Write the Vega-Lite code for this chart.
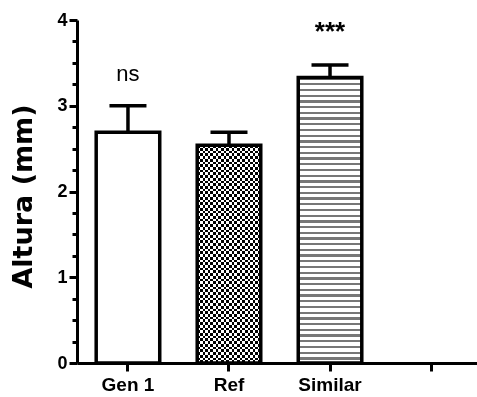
{
  "$schema": "https://vega.github.io/schema/vega-lite/v6.json",
  "width": 400,
  "height": 343,
  "autosize": "none",
  "padding": {"left": 77, "top": 20, "right": 0, "bottom": 34},
  "background": "white",
  "config": {"view": {"stroke": null}},
  "data": {
    "values": [
      {"group": "Gen 1", "value": 2.69, "upper": 3.0, "sig": "ns"},
      {"group": "Ref", "value": 2.54, "upper": 2.69, "sig": ""},
      {"group": "Similar", "value": 3.33, "upper": 3.475, "sig": "***"}
    ]
  },
  "encoding": {
    "x": {
      "field": "group",
      "type": "nominal",
      "scale": {"domain": ["Gen 1", "Ref", "Similar", " "], "range": [0, 405], "paddingInner": 0.371, "paddingOuter": 0.19},
      "axis": {
        "title": null,
        "labelAngle": 0,
        "labelFont": "Liberation Sans",
        "labelFontSize": 19,
        "labelFontWeight": "bold",
        "labelColor": "black",
        "labelPadding": 4,
        "tickSize": 8,
        "tickWidth": 3,
        "tickColor": "black",
        "domainWidth": 3,
        "domainColor": "black"
      }
    },
    "y": {
      "field": "value",
      "type": "quantitative",
      "scale": {"domain": [0, 4], "nice": false},
      "axis": {
        "title": "Altura (mm)",
        "titleFont": "DejaVu Sans",
        "titleFontSize": 27,
        "titleFontWeight": "bold",
        "titleColor": "black",
        "titleX": -54,
        "titleY": 176,
        "titleAlign": "center",
        "titleBaseline": "middle",
        "values": [0, 0.25, 0.5, 0.75, 1, 1.25, 1.5, 1.75, 2, 2.25, 2.5, 2.75, 3, 3.25, 3.5, 3.75, 4],
        "labelExpr": "datum.value % 1 === 0 ? format(datum.value, 'd') : ''",
        "tickSize": {"condition": {"test": "datum.value % 1 === 0", "value": 8}, "value": 5},
        "tickWidth": 3,
        "tickColor": "black",
        "domainWidth": 3,
        "domainColor": "black",
        "labelFont": "Liberation Sans",
        "labelFontSize": 18,
        "labelFontWeight": "bold",
        "labelColor": "black",
        "labelPadding": 2,
        "labelFlush": false,
        "labelOverlap": false,
        "grid": false
      }
    }
  },
  "layer": [
    {
      "mark": {"type": "rule", "color": "black", "strokeWidth": 3.5},
      "encoding": {"y2": {"field": "upper"}}
    },
    {
      "mark": {"type": "tick", "color": "black", "size": 37, "thickness": 3.5, "opacity": 1},
      "encoding": {"y": {"field": "upper", "type": "quantitative"}}
    },
    {
      "transform": [{"filter": "datum.group === 'Similar'"}],
      "mark": {
        "type": "bar",
        "strokeWidth": 0,
        "fill": {
          "gradient": "linear", "x1": 0, "y1": 0, "x2": 0, "y2": 1,
          "stops": [
            {"offset": 0, "color": "#777"}, {"offset": 0.008, "color": "#777"}, {"offset": 0.008, "color": "#fff"}, {"offset": 0.02, "color": "#fff"},
            {"offset": 0.02, "color": "#777"}, {"offset": 0.028, "color": "#777"}, {"offset": 0.028, "color": "#fff"}, {"offset": 0.04, "color": "#fff"},
            {"offset": 0.04, "color": "#777"}, {"offset": 0.048, "color": "#777"}, {"offset": 0.048, "color": "#fff"}, {"offset": 0.06, "color": "#fff"},
            {"offset": 0.06, "color": "#777"}, {"offset": 0.068, "color": "#777"}, {"offset": 0.068, "color": "#fff"}, {"offset": 0.08, "color": "#fff"},
            {"offset": 0.08, "color": "#777"}, {"offset": 0.088, "color": "#777"}, {"offset": 0.088, "color": "#fff"}, {"offset": 0.1, "color": "#fff"},
            {"offset": 0.1, "color": "#777"}, {"offset": 0.108, "color": "#777"}, {"offset": 0.108, "color": "#fff"}, {"offset": 0.12, "color": "#fff"},
            {"offset": 0.12, "color": "#777"}, {"offset": 0.128, "color": "#777"}, {"offset": 0.128, "color": "#fff"}, {"offset": 0.14, "color": "#fff"},
            {"offset": 0.14, "color": "#777"}, {"offset": 0.148, "color": "#777"}, {"offset": 0.148, "color": "#fff"}, {"offset": 0.16, "color": "#fff"},
            {"offset": 0.16, "color": "#777"}, {"offset": 0.168, "color": "#777"}, {"offset": 0.168, "color": "#fff"}, {"offset": 0.18, "color": "#fff"},
            {"offset": 0.18, "color": "#777"}, {"offset": 0.188, "color": "#777"}, {"offset": 0.188, "color": "#fff"}, {"offset": 0.2, "color": "#fff"},
            {"offset": 0.2, "color": "#777"}, {"offset": 0.208, "color": "#777"}, {"offset": 0.208, "color": "#fff"}, {"offset": 0.22, "color": "#fff"},
            {"offset": 0.22, "color": "#777"}, {"offset": 0.228, "color": "#777"}, {"offset": 0.228, "color": "#fff"}, {"offset": 0.24, "color": "#fff"},
            {"offset": 0.24, "color": "#777"}, {"offset": 0.248, "color": "#777"}, {"offset": 0.248, "color": "#fff"}, {"offset": 0.26, "color": "#fff"},
            {"offset": 0.26, "color": "#777"}, {"offset": 0.268, "color": "#777"}, {"offset": 0.268, "color": "#fff"}, {"offset": 0.28, "color": "#fff"},
            {"offset": 0.28, "color": "#777"}, {"offset": 0.288, "color": "#777"}, {"offset": 0.288, "color": "#fff"}, {"offset": 0.3, "color": "#fff"},
            {"offset": 0.3, "color": "#777"}, {"offset": 0.308, "color": "#777"}, {"offset": 0.308, "color": "#fff"}, {"offset": 0.32, "color": "#fff"},
            {"offset": 0.32, "color": "#777"}, {"offset": 0.328, "color": "#777"}, {"offset": 0.328, "color": "#fff"}, {"offset": 0.34, "color": "#fff"},
            {"offset": 0.34, "color": "#777"}, {"offset": 0.348, "color": "#777"}, {"offset": 0.348, "color": "#fff"}, {"offset": 0.36, "color": "#fff"},
            {"offset": 0.36, "color": "#777"}, {"offset": 0.368, "color": "#777"}, {"offset": 0.368, "color": "#fff"}, {"offset": 0.38, "color": "#fff"},
            {"offset": 0.38, "color": "#777"}, {"offset": 0.388, "color": "#777"}, {"offset": 0.388, "color": "#fff"}, {"offset": 0.4, "color": "#fff"},
            {"offset": 0.4, "color": "#777"}, {"offset": 0.408, "color": "#777"}, {"offset": 0.408, "color": "#fff"}, {"offset": 0.42, "color": "#fff"},
            {"offset": 0.42, "color": "#777"}, {"offset": 0.428, "color": "#777"}, {"offset": 0.428, "color": "#fff"}, {"offset": 0.44, "color": "#fff"},
            {"offset": 0.44, "color": "#777"}, {"offset": 0.448, "color": "#777"}, {"offset": 0.448, "color": "#fff"}, {"offset": 0.46, "color": "#fff"},
            {"offset": 0.46, "color": "#777"}, {"offset": 0.468, "color": "#777"}, {"offset": 0.468, "color": "#fff"}, {"offset": 0.48, "color": "#fff"},
            {"offset": 0.48, "color": "#777"}, {"offset": 0.488, "color": "#777"}, {"offset": 0.488, "color": "#fff"}, {"offset": 0.5, "color": "#fff"},
            {"offset": 0.5, "color": "#777"}, {"offset": 0.508, "color": "#777"}, {"offset": 0.508, "color": "#fff"}, {"offset": 0.52, "color": "#fff"},
            {"offset": 0.52, "color": "#777"}, {"offset": 0.528, "color": "#777"}, {"offset": 0.528, "color": "#fff"}, {"offset": 0.54, "color": "#fff"},
            {"offset": 0.54, "color": "#777"}, {"offset": 0.548, "color": "#777"}, {"offset": 0.548, "color": "#fff"}, {"offset": 0.56, "color": "#fff"},
            {"offset": 0.56, "color": "#777"}, {"offset": 0.568, "color": "#777"}, {"offset": 0.568, "color": "#fff"}, {"offset": 0.58, "color": "#fff"},
            {"offset": 0.58, "color": "#777"}, {"offset": 0.588, "color": "#777"}, {"offset": 0.588, "color": "#fff"}, {"offset": 0.6, "color": "#fff"},
            {"offset": 0.6, "color": "#777"}, {"offset": 0.608, "color": "#777"}, {"offset": 0.608, "color": "#fff"}, {"offset": 0.62, "color": "#fff"},
            {"offset": 0.62, "color": "#777"}, {"offset": 0.628, "color": "#777"}, {"offset": 0.628, "color": "#fff"}, {"offset": 0.64, "color": "#fff"},
            {"offset": 0.64, "color": "#777"}, {"offset": 0.648, "color": "#777"}, {"offset": 0.648, "color": "#fff"}, {"offset": 0.66, "color": "#fff"},
            {"offset": 0.66, "color": "#777"}, {"offset": 0.668, "color": "#777"}, {"offset": 0.668, "color": "#fff"}, {"offset": 0.68, "color": "#fff"},
            {"offset": 0.68, "color": "#777"}, {"offset": 0.688, "color": "#777"}, {"offset": 0.688, "color": "#fff"}, {"offset": 0.7, "color": "#fff"},
            {"offset": 0.7, "color": "#777"}, {"offset": 0.708, "color": "#777"}, {"offset": 0.708, "color": "#fff"}, {"offset": 0.72, "color": "#fff"},
            {"offset": 0.72, "color": "#777"}, {"offset": 0.728, "color": "#777"}, {"offset": 0.728, "color": "#fff"}, {"offset": 0.74, "color": "#fff"},
            {"offset": 0.74, "color": "#777"}, {"offset": 0.748, "color": "#777"}, {"offset": 0.748, "color": "#fff"}, {"offset": 0.76, "color": "#fff"},
            {"offset": 0.76, "color": "#777"}, {"offset": 0.768, "color": "#777"}, {"offset": 0.768, "color": "#fff"}, {"offset": 0.78, "color": "#fff"},
            {"offset": 0.78, "color": "#777"}, {"offset": 0.788, "color": "#777"}, {"offset": 0.788, "color": "#fff"}, {"offset": 0.8, "color": "#fff"},
            {"offset": 0.8, "color": "#777"}, {"offset": 0.808, "color": "#777"}, {"offset": 0.808, "color": "#fff"}, {"offset": 0.82, "color": "#fff"},
            {"offset": 0.82, "color": "#777"}, {"offset": 0.828, "color": "#777"}, {"offset": 0.828, "color": "#fff"}, {"offset": 0.84, "color": "#fff"},
            {"offset": 0.84, "color": "#777"}, {"offset": 0.848, "color": "#777"}, {"offset": 0.848, "color": "#fff"}, {"offset": 0.86, "color": "#fff"},
            {"offset": 0.86, "color": "#777"}, {"offset": 0.868, "color": "#777"}, {"offset": 0.868, "color": "#fff"}, {"offset": 0.88, "color": "#fff"},
            {"offset": 0.88, "color": "#777"}, {"offset": 0.888, "color": "#777"}, {"offset": 0.888, "color": "#fff"}, {"offset": 0.9, "color": "#fff"},
            {"offset": 0.9, "color": "#777"}, {"offset": 0.908, "color": "#777"}, {"offset": 0.908, "color": "#fff"}, {"offset": 0.92, "color": "#fff"},
            {"offset": 0.92, "color": "#777"}, {"offset": 0.928, "color": "#777"}, {"offset": 0.928, "color": "#fff"}, {"offset": 0.94, "color": "#fff"},
            {"offset": 0.94, "color": "#777"}, {"offset": 0.948, "color": "#777"}, {"offset": 0.948, "color": "#fff"}, {"offset": 0.96, "color": "#fff"},
            {"offset": 0.96, "color": "#777"}, {"offset": 0.968, "color": "#777"}, {"offset": 0.968, "color": "#fff"}, {"offset": 0.98, "color": "#fff"},
            {"offset": 0.98, "color": "#777"}, {"offset": 0.988, "color": "#777"}, {"offset": 0.988, "color": "#fff"}, {"offset": 1, "color": "#fff"}
          ]
        }
      }
    },
    {
      "transform": [{"filter": "datum.group === 'Ref'"}],
      "mark": {
        "type": "bar",
        "strokeWidth": 0,
        "fill": {
          "gradient": "linear", "x1": 0, "y1": 0, "x2": 0, "y2": 1,
          "stops": [
            {"offset": 0, "color": "#000"}, {"offset": 0.0125, "color": "#000"}, {"offset": 0.0125, "color": "#fff"}, {"offset": 0.025, "color": "#fff"},
            {"offset": 0.025, "color": "#000"}, {"offset": 0.0375, "color": "#000"}, {"offset": 0.0375, "color": "#fff"}, {"offset": 0.05, "color": "#fff"},
            {"offset": 0.05, "color": "#000"}, {"offset": 0.0625, "color": "#000"}, {"offset": 0.0625, "color": "#fff"}, {"offset": 0.075, "color": "#fff"},
            {"offset": 0.075, "color": "#000"}, {"offset": 0.0875, "color": "#000"}, {"offset": 0.0875, "color": "#fff"}, {"offset": 0.1, "color": "#fff"},
            {"offset": 0.1, "color": "#000"}, {"offset": 0.1125, "color": "#000"}, {"offset": 0.1125, "color": "#fff"}, {"offset": 0.125, "color": "#fff"},
            {"offset": 0.125, "color": "#000"}, {"offset": 0.1375, "color": "#000"}, {"offset": 0.1375, "color": "#fff"}, {"offset": 0.15, "color": "#fff"},
            {"offset": 0.15, "color": "#000"}, {"offset": 0.1625, "color": "#000"}, {"offset": 0.1625, "color": "#fff"}, {"offset": 0.175, "color": "#fff"},
            {"offset": 0.175, "color": "#000"}, {"offset": 0.1875, "color": "#000"}, {"offset": 0.1875, "color": "#fff"}, {"offset": 0.2, "color": "#fff"},
            {"offset": 0.2, "color": "#000"}, {"offset": 0.2125, "color": "#000"}, {"offset": 0.2125, "color": "#fff"}, {"offset": 0.225, "color": "#fff"},
            {"offset": 0.225, "color": "#000"}, {"offset": 0.2375, "color": "#000"}, {"offset": 0.2375, "color": "#fff"}, {"offset": 0.25, "color": "#fff"},
            {"offset": 0.25, "color": "#000"}, {"offset": 0.2625, "color": "#000"}, {"offset": 0.2625, "color": "#fff"}, {"offset": 0.275, "color": "#fff"},
            {"offset": 0.275, "color": "#000"}, {"offset": 0.2875, "color": "#000"}, {"offset": 0.2875, "color": "#fff"}, {"offset": 0.3, "color": "#fff"},
            {"offset": 0.3, "color": "#000"}, {"offset": 0.3125, "color": "#000"}, {"offset": 0.3125, "color": "#fff"}, {"offset": 0.325, "color": "#fff"},
            {"offset": 0.325, "color": "#000"}, {"offset": 0.3375, "color": "#000"}, {"offset": 0.3375, "color": "#fff"}, {"offset": 0.35, "color": "#fff"},
            {"offset": 0.35, "color": "#000"}, {"offset": 0.3625, "color": "#000"}, {"offset": 0.3625, "color": "#fff"}, {"offset": 0.375, "color": "#fff"},
            {"offset": 0.375, "color": "#000"}, {"offset": 0.3875, "color": "#000"}, {"offset": 0.3875, "color": "#fff"}, {"offset": 0.4, "color": "#fff"},
            {"offset": 0.4, "color": "#000"}, {"offset": 0.4125, "color": "#000"}, {"offset": 0.4125, "color": "#fff"}, {"offset": 0.425, "color": "#fff"},
            {"offset": 0.425, "color": "#000"}, {"offset": 0.4375, "color": "#000"}, {"offset": 0.4375, "color": "#fff"}, {"offset": 0.45, "color": "#fff"},
            {"offset": 0.45, "color": "#000"}, {"offset": 0.4625, "color": "#000"}, {"offset": 0.4625, "color": "#fff"}, {"offset": 0.475, "color": "#fff"},
            {"offset": 0.475, "color": "#000"}, {"offset": 0.4875, "color": "#000"}, {"offset": 0.4875, "color": "#fff"}, {"offset": 0.5, "color": "#fff"},
            {"offset": 0.5, "color": "#000"}, {"offset": 0.5125, "color": "#000"}, {"offset": 0.5125, "color": "#fff"}, {"offset": 0.525, "color": "#fff"},
            {"offset": 0.525, "color": "#000"}, {"offset": 0.5375, "color": "#000"}, {"offset": 0.5375, "color": "#fff"}, {"offset": 0.55, "color": "#fff"},
            {"offset": 0.55, "color": "#000"}, {"offset": 0.5625, "color": "#000"}, {"offset": 0.5625, "color": "#fff"}, {"offset": 0.575, "color": "#fff"},
            {"offset": 0.575, "color": "#000"}, {"offset": 0.5875, "color": "#000"}, {"offset": 0.5875, "color": "#fff"}, {"offset": 0.6, "color": "#fff"},
            {"offset": 0.6, "color": "#000"}, {"offset": 0.6125, "color": "#000"}, {"offset": 0.6125, "color": "#fff"}, {"offset": 0.625, "color": "#fff"},
            {"offset": 0.625, "color": "#000"}, {"offset": 0.6375, "color": "#000"}, {"offset": 0.6375, "color": "#fff"}, {"offset": 0.65, "color": "#fff"},
            {"offset": 0.65, "color": "#000"}, {"offset": 0.6625, "color": "#000"}, {"offset": 0.6625, "color": "#fff"}, {"offset": 0.675, "color": "#fff"},
            {"offset": 0.675, "color": "#000"}, {"offset": 0.6875, "color": "#000"}, {"offset": 0.6875, "color": "#fff"}, {"offset": 0.7, "color": "#fff"},
            {"offset": 0.7, "color": "#000"}, {"offset": 0.7125, "color": "#000"}, {"offset": 0.7125, "color": "#fff"}, {"offset": 0.725, "color": "#fff"},
            {"offset": 0.725, "color": "#000"}, {"offset": 0.7375, "color": "#000"}, {"offset": 0.7375, "color": "#fff"}, {"offset": 0.75, "color": "#fff"},
            {"offset": 0.75, "color": "#000"}, {"offset": 0.7625, "color": "#000"}, {"offset": 0.7625, "color": "#fff"}, {"offset": 0.775, "color": "#fff"},
            {"offset": 0.775, "color": "#000"}, {"offset": 0.7875, "color": "#000"}, {"offset": 0.7875, "color": "#fff"}, {"offset": 0.8, "color": "#fff"},
            {"offset": 0.8, "color": "#000"}, {"offset": 0.8125, "color": "#000"}, {"offset": 0.8125, "color": "#fff"}, {"offset": 0.825, "color": "#fff"},
            {"offset": 0.825, "color": "#000"}, {"offset": 0.8375, "color": "#000"}, {"offset": 0.8375, "color": "#fff"}, {"offset": 0.85, "color": "#fff"},
            {"offset": 0.85, "color": "#000"}, {"offset": 0.8625, "color": "#000"}, {"offset": 0.8625, "color": "#fff"}, {"offset": 0.875, "color": "#fff"},
            {"offset": 0.875, "color": "#000"}, {"offset": 0.8875, "color": "#000"}, {"offset": 0.8875, "color": "#fff"}, {"offset": 0.9, "color": "#fff"},
            {"offset": 0.9, "color": "#000"}, {"offset": 0.9125, "color": "#000"}, {"offset": 0.9125, "color": "#fff"}, {"offset": 0.925, "color": "#fff"},
            {"offset": 0.925, "color": "#000"}, {"offset": 0.9375, "color": "#000"}, {"offset": 0.9375, "color": "#fff"}, {"offset": 0.95, "color": "#fff"},
            {"offset": 0.95, "color": "#000"}, {"offset": 0.9625, "color": "#000"}, {"offset": 0.9625, "color": "#fff"}, {"offset": 0.975, "color": "#fff"},
            {"offset": 0.975, "color": "#000"}, {"offset": 0.9875, "color": "#000"}, {"offset": 0.9875, "color": "#fff"}, {"offset": 1, "color": "#fff"}
          ]
        }
      }
    },
    {
      "transform": [{"filter": "datum.group === 'Ref'"}],
      "mark": {
        "type": "bar",
        "strokeWidth": 0,
        "blend": "difference",
        "fill": {
          "gradient": "linear", "x1": 0, "y1": 0, "x2": 1, "y2": 0,
          "stops": [
            {"offset": 0, "color": "#000"}, {"offset": 0.0417, "color": "#000"}, {"offset": 0.0417, "color": "#fff"}, {"offset": 0.0833, "color": "#fff"},
            {"offset": 0.0833, "color": "#000"}, {"offset": 0.125, "color": "#000"}, {"offset": 0.125, "color": "#fff"}, {"offset": 0.1667, "color": "#fff"},
            {"offset": 0.1667, "color": "#000"}, {"offset": 0.2083, "color": "#000"}, {"offset": 0.2083, "color": "#fff"}, {"offset": 0.25, "color": "#fff"},
            {"offset": 0.25, "color": "#000"}, {"offset": 0.2917, "color": "#000"}, {"offset": 0.2917, "color": "#fff"}, {"offset": 0.3333, "color": "#fff"},
            {"offset": 0.3333, "color": "#000"}, {"offset": 0.375, "color": "#000"}, {"offset": 0.375, "color": "#fff"}, {"offset": 0.4167, "color": "#fff"},
            {"offset": 0.4167, "color": "#000"}, {"offset": 0.4583, "color": "#000"}, {"offset": 0.4583, "color": "#fff"}, {"offset": 0.5, "color": "#fff"},
            {"offset": 0.5, "color": "#000"}, {"offset": 0.5417, "color": "#000"}, {"offset": 0.5417, "color": "#fff"}, {"offset": 0.5833, "color": "#fff"},
            {"offset": 0.5833, "color": "#000"}, {"offset": 0.625, "color": "#000"}, {"offset": 0.625, "color": "#fff"}, {"offset": 0.6667, "color": "#fff"},
            {"offset": 0.6667, "color": "#000"}, {"offset": 0.7083, "color": "#000"}, {"offset": 0.7083, "color": "#fff"}, {"offset": 0.75, "color": "#fff"},
            {"offset": 0.75, "color": "#000"}, {"offset": 0.7917, "color": "#000"}, {"offset": 0.7917, "color": "#fff"}, {"offset": 0.8333, "color": "#fff"},
            {"offset": 0.8333, "color": "#000"}, {"offset": 0.875, "color": "#000"}, {"offset": 0.875, "color": "#fff"}, {"offset": 0.9167, "color": "#fff"},
            {"offset": 0.9167, "color": "#000"}, {"offset": 0.9583, "color": "#000"}, {"offset": 0.9583, "color": "#fff"}, {"offset": 1, "color": "#fff"}
          ]
        }
      }
    },
    {
      "mark": {"type": "bar", "fill": "transparent", "stroke": "black", "strokeWidth": 3.5}
    },
    {
      "transform": [{"filter": "datum.sig === 'ns'"}],
      "mark": {"type": "text", "font": "Liberation Sans", "fontSize": 22, "baseline": "alphabetic", "dy": -25, "color": "black"},
      "encoding": {"y": {"field": "upper", "type": "quantitative"}, "text": {"field": "sig"}}
    },
    {
      "transform": [{"filter": "datum.sig === '***'"}],
      "mark": {"type": "text", "font": "Liberation Sans", "fontSize": 26, "fontWeight": "bold", "baseline": "alphabetic", "dy": -25, "color": "black"},
      "encoding": {"y": {"field": "upper", "type": "quantitative"}, "text": {"field": "sig"}}
    }
  ]
}
